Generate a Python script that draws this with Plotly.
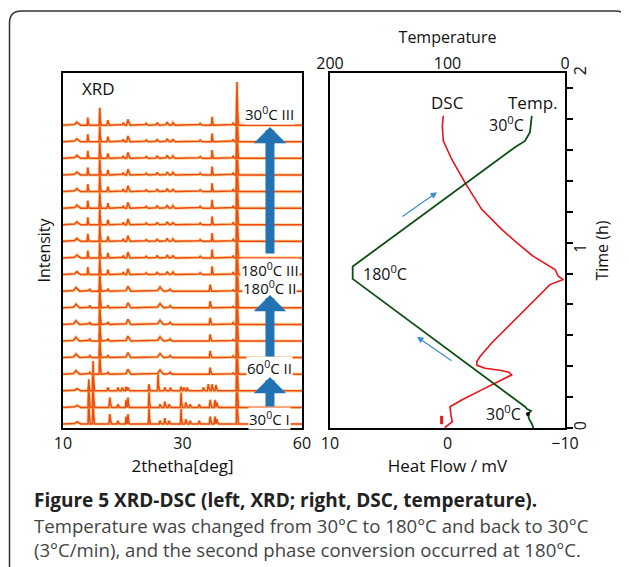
import plotly.graph_objects as go

W, H = 629, 567
OFF = 8  # page body margin of the html page: figure pixel = page pixel - OFF

# ---------------- XRD data (peak lists) ----------------
TWO_THETA_RANGE = [10, 60]
XRD_TICK_VALS = [10, 35, 60]
XRD_TICK_TEXT = ["10", "30", "60"]

# phase I (30 C I)
PH1_POS = [12.9, 15.4, 16.3, 19.8, 21.5, 23.2, 23.6, 28.0, 30.3, 31.3, 32.2, 34.7, 35.7, 36.6, 38.5, 40.8, 41.8, 42.2, 46.4]
PH1_HT = [0.15, 1.7, 1.8, 0.6, 0.2, 0.45, 0.6, 0.95, 0.2, 0.35, 0.2, 0.9, 0.3, 0.2, 0.2, 0.45, 0.45, 0.3, 2.6]
PH1_W = [0.6, 0.15, 0.15, 0.2, 0.2, 0.15, 0.15, 0.15, 0.2, 0.2, 0.2, 0.15, 0.2, 0.2, 0.2, 0.2, 0.2, 0.2, 0.15]
# transition pattern
PHM_POS = [12.9, 15.4, 16.3, 19.4, 21.5, 22.4, 23.2, 23.6, 28.0, 29.9, 31.3, 32.5, 34.7, 35.3, 36.0, 39.4, 40.4, 41.2, 42.0, 46.4]
PHM_HT = [0.15, 0.4, 1.8, 0.2, 0.2, 0.2, 0.25, 0.2, 0.4, 1.0, 0.2, 0.2, 0.25, 0.2, 0.2, 0.2, 0.4, 0.4, 0.35, 2.6]
PHM_W = [0.6, 0.15, 0.15, 0.2, 0.2, 0.2, 0.2, 0.2, 0.15, 0.15, 0.2, 0.2, 0.2, 0.2, 0.2, 0.2, 0.2, 0.2, 0.2, 0.15]
# phase II
PH2_POS = [12.7, 15.6, 17.7, 19.4, 23.6, 30.3, 32.4, 40.8, 45.6, 46.4]
PH2_HT = [0.22, 0.15, 1.5, 0.15, 0.3, 0.25, 0.12, 0.4, 0.1, 2.6]
PH2_W = [0.6, 0.2, 0.15, 0.2, 0.45, 0.6, 0.3, 0.2, 0.2, 0.15]
# phase III
PH3_POS = [12.9, 15.2, 17.7, 19.4, 22.6, 23.6, 27.4, 29.7, 31.8, 33.0, 38.7, 41.2, 45.6, 46.4]
PH3_HT = [0.18, 0.45, 1.05, 0.3, 0.15, 0.35, 0.1, 0.15, 0.18, 0.15, 0.1, 0.5, 0.15, 2.6]
PH3_W = [0.6, 0.15, 0.15, 0.2, 0.2, 0.3, 0.3, 0.3, 0.3, 0.3, 0.3, 0.15, 0.2, 0.15]

TRACE_PHASE = ["I", "I", "M"] + ["II"] * 6 + ["III"] * 10   # bottom -> top

XRD_LABELS = ["30<sup>0</sup>C I", "60<sup>0</sup>C II", "180<sup>0</sup>C III",
              "180<sup>0</sup>C II", "30<sup>0</sup>C III"]
XRD_LABEL_Y = [0.36, 3.43, 9.3, 8.2, 18.73]
XRD_ARROW_FROM = [0.96, 3.98, 10.18]
XRD_ARROW_TO = [2.83, 7.77, 17.89]

# ---------------- DSC / temperature data ----------------
DSC_HF = [0.21, 0.15, -0.41, -0.30, -0.21, -1.21, -2.91, -4.04, -4.89, -5.46, -5.23, -4.47, -3.19, -2.51,
          -2.49, -2.77, -3.76, -4.89, -6.31, -7.73, -8.72, -9.86, -9.43, -9.15, -8.44, -7.28, -5.89,
          -4.61, -2.91, -1.49, -0.36, 0.36, 0.44, 0.36]
DSC_TIME = [0.0, 0.007, 0.036, 0.068, 0.120, 0.158, 0.215, 0.254, 0.282, 0.299, 0.314, 0.325, 0.337, 0.353,
            0.373, 0.403, 0.479, 0.554, 0.648, 0.742, 0.808, 0.836, 0.855, 0.893, 0.921, 0.968, 1.044,
            1.119, 1.232, 1.382, 1.514, 1.618, 1.702, 1.759]
TEMP_C = [27.0, 28.1, 30.6, 31.5, 28.9, 32.3, 34.0, 180.7, 180.7, 42.6, 34.0, 29.8, 28.3]
TEMP_TIME = [0.0, 0.023, 0.051, 0.079, 0.096, 0.107, 0.120, 0.840, 0.910, 1.582, 1.617, 1.667, 1.759]

HF_TICKS = [10, 0, -10]
T_TICKS = [200, 100, 0]
TIME_TICKS = [0, 1, 2]

FONT = "Open Sans"
XRD_COLOR = "#ee4a14"
DSC_RED = "#e8131b"
TEMP_GREEN = "#0c4f14"
ARROW_BLUE = "#2372b4"


def fx(p):  # page pixel x -> paper fraction
    return (p - OFF) / W


def fy(p):  # page pixel y -> paper fraction
    return 1 - (p - OFF) / H


phases = {
    "I": (PH1_POS, PH1_HT, PH1_W),
    "M": (PHM_POS, PHM_HT, PHM_W),
    "II": (PH2_POS, PH2_HT, PH2_W),
    "III": (PH3_POS, PH3_HT, PH3_W),
}


def pattern(pos, ht, wid, offset):
    xs = set(round(TWO_THETA_RANGE[0] + 0.05 * i, 3) for i in range(1001))
    for p, w in zip(pos, wid):
        xs.update([p - w, p, p + w])
    xs = sorted(x for x in xs if TWO_THETA_RANGE[0] <= x <= TWO_THETA_RANGE[1])
    ys = []
    for x in xs:
        s = 0.0
        for p, h, w in zip(pos, ht, wid):
            d = abs(x - p)
            if d < w:
                s += h * (1 - d / w)
        ys.append(offset + s)
    return xs, ys


fig = go.Figure()

for k, ph in enumerate(TRACE_PHASE):
    xs, ys = pattern(*phases[ph], k)
    fig.add_trace(go.Scatter(x=xs, y=ys, mode="lines", xaxis="x", yaxis="y",
                             line=dict(color="#f8b040", width=3.2), opacity=0.55,
                             showlegend=False, hoverinfo="skip"))
    fig.add_trace(go.Scatter(x=xs, y=ys, mode="lines", xaxis="x", yaxis="y",
                             line=dict(color=XRD_COLOR, width=1.5),
                             showlegend=False, hoverinfo="skip"))

fig.add_trace(go.Scatter(x=DSC_HF, y=DSC_TIME, mode="lines", xaxis="x2", yaxis="y2",
                         line=dict(color=DSC_RED, width=1.6), showlegend=False))
fig.add_trace(go.Scatter(x=TEMP_C, y=TEMP_TIME, mode="lines", xaxis="x3", yaxis="y2",
                         line=dict(color=TEMP_GREEN, width=1.8), showlegend=False))
fig.add_trace(go.Scatter(x=[31.5], y=[0.079], mode="markers", xaxis="x3", yaxis="y2",
                         marker=dict(color="black", size=4), showlegend=False))
fig.add_trace(go.Scatter(x=[0.5, 0.5, 0.5], y=[0.03, 0.045, 0.06], mode="markers", xaxis="x2", yaxis="y2",
                         marker=dict(color=DSC_RED, size=3, symbol="square"), showlegend=False))

ydom = [fy(428), fy(73)]
axis_common = dict(showline=True, linecolor="black", linewidth=2, mirror=True,
                   showgrid=False, zeroline=False, automargin=False,
                   tickfont=dict(family=FONT, size=16, color="#111"))

fig.update_layout(
    width=W, height=H, autosize=False,
    margin=dict(l=0, r=0, t=0, b=0, pad=0),
    paper_bgcolor="white", plot_bgcolor="white",
    font=dict(family=FONT, color="#111"),
    xaxis=dict(domain=[fx(63), fx(302)], range=TWO_THETA_RANGE, anchor="y",
               tickmode="array", tickvals=XRD_TICK_VALS, ticktext=XRD_TICK_TEXT, ticks="",
               title=dict(text="2thetha[deg]", font=dict(size=17), standoff=1), **axis_common),
    yaxis=dict(domain=ydom, range=[-0.24, 21.14], anchor="x", showticklabels=False, ticks="",
               title=dict(text="Intensity", font=dict(size=16), standoff=6), **axis_common),
    xaxis2=dict(domain=[fx(330), fx(565)], range=[10, -10], anchor="y2",
                tickmode="array", tickvals=HF_TICKS, ticks="",
                title=dict(text="Heat Flow / mV", font=dict(size=17), standoff=1), **axis_common),
    xaxis3=dict(overlaying="x2", side="top", range=[200, 0], anchor="y2",
                tickmode="array", tickvals=T_TICKS, ticks="", automargin=False,
                title=dict(text="Temperature", font=dict(size=16), standoff=4),
                showline=False, showgrid=False, zeroline=False,
                tickfont=dict(family=FONT, size=16, color="#111")),
    yaxis2=dict(domain=ydom, range=[0, 2], anchor="x2", side="right",
                tickmode="array", tickvals=TIME_TICKS, ticks="", tickangle=-90,
                minor=dict(dtick=0.174, tick0=0, ticks="outside", ticklen=6, tickcolor="black", tickwidth=1.5),
                title=dict(text="Time (h)", font=dict(size=16), standoff=0), **axis_common),
)

ann = []
ann.append(dict(x=fx(98), y=fy(89), xref="paper", yref="paper", text="XRD", showarrow=False,
                xanchor="center", yanchor="middle",
                font=dict(family=FONT, size=17, color="#111")))
for txt, yv in zip(XRD_LABELS, XRD_LABEL_Y):
    ann.append(dict(x=53.3, y=yv, xref="x", yref="y", text=txt, showarrow=False,
                    bgcolor="white", borderpad=0, xanchor="center", yanchor="middle",
                    font=dict(family=FONT, size=15, color="#111")))
for a0, a1 in zip(XRD_ARROW_FROM, XRD_ARROW_TO):
    ann.append(dict(x=53.3, y=a1, ax=53.3, ay=a0, xref="x", yref="y", axref="x", ayref="y",
                    text="", showarrow=True, arrowhead=1, arrowsize=0.6, arrowwidth=9,
                    arrowcolor=ARROW_BLUE, standoff=0, startstandoff=0))

dsc_text = [("DSC", 0.04, 1.831, 17), ("Temp.", -7.28, 1.831, 17),
            ("30<sup>0</sup>C", -5.06, 1.712, 16), ("180<sup>0</sup>C", 5.32, 0.876, 16),
            ("30<sup>0</sup>C", -4.8, 0.085, 16)]
for txt, xv, yv, sz in dsc_text:
    ann.append(dict(x=xv, y=yv, xref="x2", yref="y2", text=txt, showarrow=False,
                    xanchor="center", yanchor="middle",
                    font=dict(family=FONT, size=sz, color="#111")))
for (x0, y0, x1, y1) in [(3.96, 1.186, 0.89, 1.328), (-0.47, 0.373, 2.6, 0.514)]:
    ann.append(dict(x=x1, y=y1, ax=x0, ay=y0, xref="x2", yref="y2", axref="x2", ayref="y2",
                    text="", showarrow=True, arrowhead=2, arrowsize=1, arrowwidth=1.3,
                    arrowcolor="#3b8fd2", standoff=0))

ann.append(dict(x=fx(32), y=fy(500), xref="paper", yref="paper", xanchor="left", yanchor="middle",
                text="<b>Figure 5 XRD-DSC (left, XRD; right, DSC, temperature).</b>", showarrow=False,
                font=dict(family=FONT, size=19, color="#222")))
ann.append(dict(x=fx(32), y=fy(525), xref="paper", yref="paper", xanchor="left", yanchor="middle",
                text="Temperature was changed from 30°C to 180°C and back to 30°C", showarrow=False,
                font=dict(family=FONT, size=18.6, color="#444")))
ann.append(dict(x=fx(32), y=fy(549), xref="paper", yref="paper", xanchor="left", yanchor="middle",
                text="(3°C/min), and the second phase conversion occurred at 180°C.", showarrow=False,
                font=dict(family=FONT, size=18.6, color="#444")))
fig.update_layout(annotations=ann)

# rounded frame around the figure (open at the bottom)
x0, x1 = fx(9.5), fx(627.5)
yt, yb = fy(11), -0.1
rx, ry = 12 / W, 12 / H
path = (f"M {x0},{yb} L {x0},{yt - ry} Q {x0},{yt} {x0 + rx},{yt} "
        f"L {x1 - rx},{yt} Q {x1},{yt} {x1},{yt - ry} L {x1},{yb}")
fig.add_shape(type="path", path=path, xref="paper", yref="paper",
              line=dict(color="#333", width=1.5))

fig.write_html("out.html")
